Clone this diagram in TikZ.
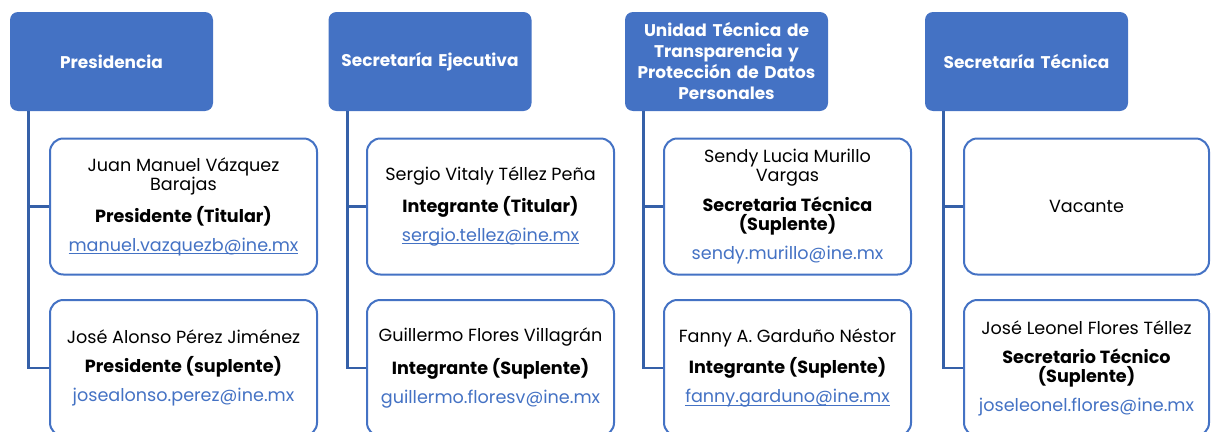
\documentclass[tikz,border=0pt]{standalone}
\usepackage{fontspec}
\setmainfont{Poppins}
\definecolor{hdrblue}{HTML}{4472C4}
\definecolor{lineblue}{HTML}{3560A8}
\definecolor{mailblue}{HTML}{4472C4}
\newcommand{\mail}[1]{\textcolor{mailblue}{#1}}
\newcommand{\umail}[1]{\textcolor{mailblue}{\setbox0\hbox{#1}\rlap{\rule[-2pt]{\wd0}{0.6pt}}\box0}}
\begin{document}
\begin{tikzpicture}[x=0.75pt, y=-0.75pt,
  header/.style={rectangle, rounded corners=6pt, fill=hdrblue, text=white,
    minimum width=152.25pt, minimum height=74.25pt, inner sep=0pt,
    text width=150pt, align=center, font=\fontsize{12.7}{15.75}\selectfont\bfseries},
  member/.style={rectangle, rounded corners=10pt, draw=hdrblue, line width=1.5pt, fill=white,
    minimum height=102pt, inner sep=0pt, align=center,
    font=\fontsize{13.2}{14.25}\selectfont},
  conn/.style={draw=lineblue, line width=2pt}]

\useasboundingbox (0,0) rectangle (1211,432);
\clip (0,0) rectangle (1211,432);

\node (hPres)[header] at (111.5, 61.5) {Presidencia};
\node (hSecEj)[header] at (430, 61.5) {Secretaría Ejecutiva};
\node (hUT)[header] at (726.5, 61.5) {Unidad Técnica de\\Transparencia y\\Protección de Datos\\Personales};
\node (hSecT)[header] at (1026.5, 61.5) {Secretaría Técnica};

\node (pres1)[member, minimum width=200.25pt] at (183.5, 206.5)
  {Juan Manuel Vázquez\\Barajas\\[7.5pt]\textbf{Presidente (Titular)}\\[7.5pt]\umail{manuel.vazquezb@ine.mx}};
\node (pres2)[member, minimum width=200.25pt] at (183.5, 368)
  {José Alonso Pérez Jiménez\\[7.5pt]\textbf{Presidente (suplente)}\\[7.5pt]\mail{josealonso.perez@ine.mx}};

\node (secej1)[member, minimum width=185.25pt] at (490.5, 206.5)
  {Sergio Vitaly Téllez Peña\\[7.5pt]\textbf{Integrante (Titular)}\\[7.5pt]\umail{sergio.tellez@ine.mx}};
\node (secej2)[member, minimum width=185.25pt] at (490.5, 368)
  {Guillermo Flores Villagrán\\[7.5pt]\textbf{Integrante (Suplente)}\\[7.5pt]\mail{guillermo.floresv@ine.mx}};

\node (ut1)[member, minimum width=185.25pt] at (787.5, 206.5)
  {Sendy Lucia Murillo\\Vargas\\[7.5pt]\textbf{Secretaria Técnica}\\\textbf{(Suplente)}\\[7.5pt]\mail{sendy.murillo@ine.mx}};
\node (ut2)[member, minimum width=185.25pt] at (787.5, 368)
  {Fanny A. Garduño Néstor\\[7.5pt]\textbf{Integrante (Suplente)}\\[7.5pt]\umail{fanny.garduno@ine.mx}};

\node (sect1)[member, minimum width=183.75pt] at (1086.5, 206.5) {Vacante};
\node (sect2)[member, minimum width=183.75pt] at (1086.5, 368)
  {José Leonel Flores Téllez\\[7.5pt]\textbf{Secretario Técnico}\\\textbf{(Suplente)}\\[7.5pt]\mail{joseleonel.flores@ine.mx}};

\draw[conn] ([xshift=14.25pt]hPres.south west) |- (pres1.west);
\draw[conn] ([xshift=14.25pt]hPres.south west) |- (pres2.west);
\draw[conn] ([xshift=14.25pt]hSecEj.south west) |- (secej1.west);
\draw[conn] ([xshift=14.25pt]hSecEj.south west) |- (secej2.west);
\draw[conn] ([xshift=14.25pt]hUT.south west) |- (ut1.west);
\draw[conn] ([xshift=14.25pt]hUT.south west) |- (ut2.west);
\draw[conn] ([xshift=14.25pt]hSecT.south west) |- (sect1.west);
\draw[conn] ([xshift=14.25pt]hSecT.south west) |- (sect2.west);

\end{tikzpicture}
\end{document}
